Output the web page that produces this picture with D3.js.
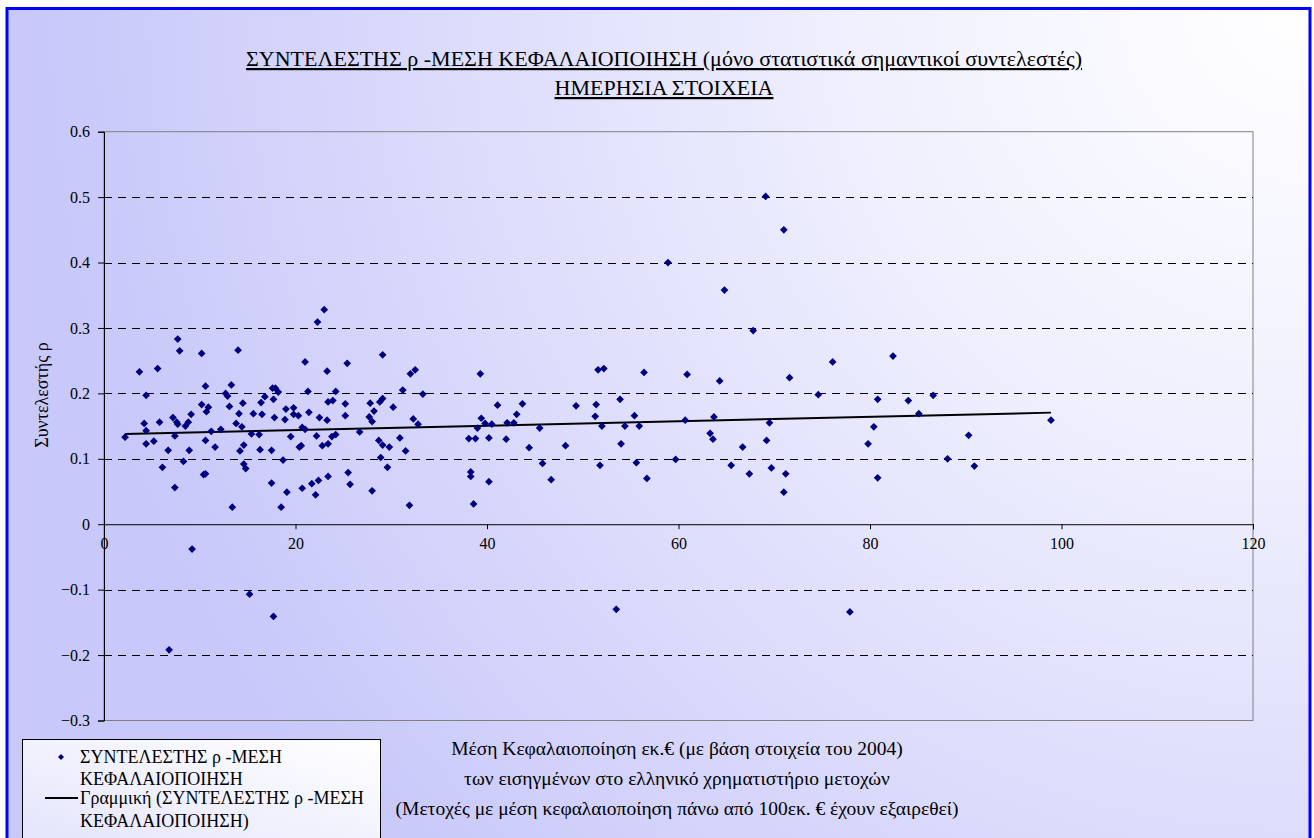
<!DOCTYPE html>
<html>
<head>
<meta charset="utf-8">
<script src="https://cdn.jsdelivr.net/npm/d3@7"></script>
<style>
  html, body { margin: 0; padding: 0; background: #ffffff; }
  svg { display: block; }
</style>
</head>
<body>
<svg id="chart" width="1314" height="838"></svg>
<script>
// ---------------- DATA ----------------
const titleLines = [
  "ΣΥΝΤΕΛΕΣΤΗΣ ρ -ΜΕΣΗ ΚΕΦΑΛΑΙΟΠΟΙΗΣΗ (μόνο στατιστικά σημαντικοί συντελεστές)",
  "ΗΜΕΡΗΣΙΑ ΣΤΟΙΧΕΙΑ"
];
const yAxisTitle = "Συντελεστής ρ";
const xAxisTitleLines = [
  "Μέση Κεφαλαιοποίηση εκ.€ (με βάση στοιχεία του 2004)",
  "των εισηγμένων στο ελληνικό χρηματιστήριο μετοχών",
  "(Μετοχές με μέση κεφαλαιοποίηση πάνω από 100εκ. € έχουν εξαιρεθεί)"
];
const legendSeries = ["ΣΥΝΤΕΛΕΣΤΗΣ ρ -ΜΕΣΗ", "ΚΕΦΑΛΑΙΟΠΟΙΗΣΗ"];
const legendTrend = ["Γραμμική (ΣΥΝΤΕΛΕΣΤΗΣ ρ -ΜΕΣΗ", "ΚΕΦΑΛΑΙΟΠΟΙΗΣΗ)"];

const xTicks = [0, 20, 40, 60, 80, 100, 120];
const yTicks = [-0.3, -0.2, -0.1, 0, 0.1, 0.2, 0.3, 0.4, 0.5, 0.6];

// mean capitalisation (x) values
const capitalisation = [
  7.7,7.9,10.2,14.0,3.7,5.6,10.6,13.3,4.4,12.7,12.9,16.8,10.2,10.9,10.7,13.1,14.5,16.4,14.1,15.6,
  16.5,9.1,7.2,7.6,7.7,8.8,8.5,5.8,4.2,4.4,13.8,14.4,12.2,11.2,2.2,7.4,15.4,16.2,4.4,5.2,
  10.6,11.6,14.6,6.7,8.9,14.2,16.3,8.3,6.1,14.6,14.8,10.4,10.6,7.4,13.4,
  23.0,22.3,21.0,25.4,29.1,23.3,32.0,32.5,17.6,17.9,18.2,21.3,24.2,31.2,33.3,17.7,23.4,23.9,25.2,27.8,
  28.8,29.1,30.2,28.2,19.0,19.8,17.8,18.9,19.8,20.3,21.4,22.5,23.3,25.2,27.7,28.0,32.3,32.8,20.7,21.0,
  19.5,22.2,23.8,24.2,26.7,30.9,20.4,20.6,22.8,23.4,28.7,29.1,29.8,17.5,31.5,18.7,28.9,29.6,25.5,23.4,
  22.4,21.7,20.7,25.7,17.5,19.1,22.1,28.0,18.5,31.9,
  39.3,51.6,52.2,56.4,41.1,43.7,49.3,51.4,53.9,43.1,39.4,39.8,40.5,39.0,42.1,42.8,51.3,55.4,52.0,54.4,
  55.9,45.5,38.1,38.8,40.2,42.0,44.4,48.2,54.0,45.8,51.8,55.6,46.7,40.2,38.3,38.3,56.7,38.6,
  58.9,64.8,67.8,60.9,64.3,71.6,76.1,82.4,74.6,80.8,60.7,63.7,69.5,63.3,63.6,80.4,69.2,66.7,79.8,59.7,
  65.5,69.7,67.4,71.2,80.8,71.0,69.1,71.0,
  84.0,86.6,85.1,98.9,90.3,88.1,90.9,
  9.2,15.2,17.7,6.8,53.5,77.9
];
// coefficient rho (y) values
const rho = [
  0.283,0.265,0.261,0.266,0.233,0.238,0.211,0.213,0.197,0.200,0.196,0.195,0.183,0.179,0.172,0.180,0.185,0.186,0.169,0.169,
  0.168,0.168,0.163,0.156,0.153,0.156,0.150,0.156,0.154,0.143,0.154,0.149,0.145,0.142,0.133,0.135,0.138,0.137,0.123,0.127,
  0.128,0.118,0.121,0.113,0.113,0.112,0.114,0.096,0.087,0.092,0.085,0.076,0.077,0.056,0.026,
  0.328,0.309,0.248,0.246,0.259,0.234,0.230,0.236,0.208,0.208,0.202,0.203,0.203,0.205,0.199,0.191,0.187,0.189,0.184,0.185,
  0.187,0.192,0.179,0.173,0.176,0.178,0.163,0.160,0.168,0.166,0.171,0.163,0.159,0.166,0.164,0.157,0.161,0.153,0.148,0.145,
  0.134,0.135,0.134,0.137,0.141,0.132,0.118,0.120,0.120,0.123,0.128,0.121,0.118,0.113,0.112,0.098,0.102,0.087,0.079,0.073,
  0.067,0.062,0.055,0.061,0.063,0.049,0.045,0.051,0.026,0.029,
  0.230,0.236,0.238,0.232,0.182,0.184,0.181,0.183,0.191,0.168,0.162,0.154,0.153,0.147,0.155,0.155,0.165,0.166,0.150,0.150,
  0.150,0.147,0.131,0.131,0.132,0.130,0.117,0.120,0.123,0.093,0.090,0.094,0.068,0.065,0.080,0.073,0.070,0.031,
  0.400,0.358,0.296,0.229,0.219,0.224,0.248,0.257,0.198,0.191,0.159,0.164,0.155,0.139,0.130,0.149,0.128,0.118,0.123,0.099,
  0.090,0.086,0.077,0.077,0.071,0.049,0.501,0.450,
  0.189,0.197,0.169,0.159,0.136,0.100,0.089,
  -0.038,-0.107,-0.141,-0.192,-0.130,-0.134
];

// ---------------- CHART ----------------
const W = 1314, H = 838;
const FONT = "'Liberation Serif', 'Times New Roman', serif";
const svg = d3.select("#chart");
const defs = svg.append("defs");

const bg = defs.append("radialGradient").attr("id", "bgGrad")
  .attr("gradientUnits", "userSpaceOnUse")
  .attr("cx", 1300).attr("cy", 0).attr("r", 1250);
bg.append("stop").attr("offset", "0").attr("stop-color", "#ffffff");
bg.append("stop").attr("offset", "0.35").attr("stop-color", "#f0f0fe");
bg.append("stop").attr("offset", "1").attr("stop-color", "#c8c8fa");

const lg = defs.append("linearGradient").attr("id", "legGrad")
  .attr("x1", 0).attr("y1", 1).attr("x2", 1).attr("y2", 0);
lg.append("stop").attr("offset", "0").attr("stop-color", "#e4e4fc");
lg.append("stop").attr("offset", "1").attr("stop-color", "#ffffff");

// background + frame
svg.append("rect").attr("x", 0).attr("y", 0).attr("width", W).attr("height", H).attr("fill", "#ffffff");
svg.append("rect").attr("x", 7).attr("y", 8.5).attr("width", 1303).attr("height", 850)
  .attr("fill", "url(#bgGrad)").attr("stroke", "#0000ff").attr("stroke-width", 3);

const plot = { left: 104, right: 1253, top: 131.7, bottom: 720.5 };
const x = d3.scaleLinear().domain([0, 120]).range([plot.left, plot.right]);
const y = d3.scaleLinear().domain([-0.3, 0.6]).range([plot.bottom, plot.top]);

// plot area border
svg.append("rect").attr("x", plot.left).attr("y", plot.top)
  .attr("width", plot.right - plot.left).attr("height", plot.bottom - plot.top)
  .attr("fill", "none").attr("stroke", "#808080").attr("stroke-width", 1);

// gridlines
svg.append("g").selectAll("line")
  .data(yTicks.filter(v => v !== 0 && v !== 0.6 && v !== -0.3))
  .join("line")
  .attr("x1", plot.left).attr("x2", plot.right)
  .attr("y1", d => Math.round(y(d)) + 0.5).attr("y2", d => Math.round(y(d)) + 0.5)
  .attr("stroke", "#000").attr("stroke-width", 1).attr("stroke-dasharray", "8,6");

// y axis
const yAxis = svg.append("g").attr("transform", `translate(${plot.left},0)`)
  .call(d3.axisLeft(y).tickValues(yTicks).tickSize(6).tickPadding(8)
    .tickFormat(d => Math.abs(d) < 1e-9 ? "0" : d3.format(".1f")(d)));
yAxis.select(".domain").attr("stroke", "#000");
yAxis.selectAll("text").style("font-family", FONT).style("font-size", "16px").attr("fill", "#000");

// x axis at y = 0
const xAxis = svg.append("g").attr("transform", `translate(0,${y(0)})`)
  .call(d3.axisBottom(x).tickValues(xTicks).tickSize(5).tickPadding(8).tickFormat(d3.format("d")));
xAxis.select(".domain").attr("stroke", "#000");
xAxis.selectAll("text").style("font-family", FONT).style("font-size", "16px").attr("fill", "#000");

// trend line (least squares fit of the series)
const n = capitalisation.length;
const mx = d3.mean(capitalisation), my = d3.mean(rho);
let sxy = 0, sxx = 0;
for (let i = 0; i < n; i++) { sxy += (capitalisation[i] - mx) * (rho[i] - my); sxx += (capitalisation[i] - mx) ** 2; }
const slope = sxy / sxx, intercept = my - slope * mx;
const xExt = d3.extent(capitalisation);
svg.append("path")
  .datum(xExt)
  .attr("d", d3.line().x(d => x(d)).y(d => y(intercept + slope * d)))
  .attr("stroke", "#000").attr("stroke-width", 2).attr("fill", "none");

// points (diamonds = squares rotated 45°)
const marker = d3.symbol().type(d3.symbolSquare).size(30);
svg.append("g").selectAll("path")
  .data(d3.range(n))
  .join("path")
  .attr("transform", i => `translate(${x(capitalisation[i])},${y(rho[i])}) rotate(45)`)
  .attr("d", marker)
  .attr("fill", "#000080");

// title
svg.append("g").selectAll("text").data(titleLines).join("text")
  .attr("x", 664)
  .attr("y", (d, i) => 66 + i * 29)
  .attr("text-anchor", "middle")
  .style("font-family", FONT)
  .style("font-size", "22px")
  .style("text-decoration", "underline")
  .text(d => d);

// y axis title
svg.append("text")
  .attr("transform", `translate(48,395) rotate(-90)`)
  .attr("text-anchor", "middle")
  .style("font-family", FONT)
  .style("font-size", "18px")
  .text(yAxisTitle);

// x axis title
svg.append("g").selectAll("text").data(xAxisTitleLines).join("text")
  .attr("x", 677)
  .attr("y", (d, i) => 755 + i * 30)
  .attr("text-anchor", "middle")
  .style("font-family", FONT)
  .style("font-size", "19.5px")
  .text(d => d);

// legend
const leg = svg.append("g");
leg.append("rect").attr("x", 22.5).attr("y", 739.5).attr("width", 358).attr("height", 105)
  .attr("fill", "url(#legGrad)").attr("stroke", "#000").attr("stroke-width", 1);
leg.append("path").attr("transform", "translate(61,757) rotate(45)")
  .attr("d", d3.symbol().type(d3.symbolSquare).size(18)).attr("fill", "#000080");
leg.append("line").attr("x1", 45).attr("x2", 78).attr("y1", 798).attr("y2", 798)
  .attr("stroke", "#000").attr("stroke-width", 2);
leg.selectAll("text.s").data(legendSeries).join("text").attr("class", "s")
  .attr("x", 80).attr("y", (d, i) => 763 + i * 22)
  .style("font-family", FONT).style("font-size", "18px").text(d => d);
leg.selectAll("text.t").data(legendTrend).join("text").attr("class", "t")
  .attr("x", 80).attr("y", (d, i) => 804 + i * 23)
  .style("font-family", FONT).style("font-size", "18px").text(d => d);
</script>
</body>
</html>
